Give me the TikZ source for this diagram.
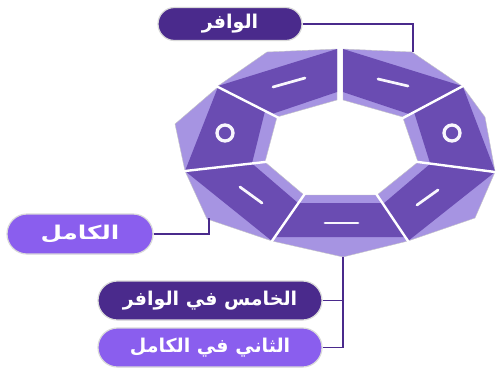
\documentclass[tikz,border=0pt]{standalone}
\usepackage{fontspec}
\newfontfamily\arabicfont[Script=Arabic]{DejaVu Sans}
\TeXXeTstate=1
\usetikzlibrary{shapes.misc}
\definecolor{ringdark}{HTML}{6A4CB2}
\definecolor{ringlight}{HTML}{A694E2}
\definecolor{pilldark}{HTML}{4A2A8C}
\definecolor{pilllight}{HTML}{8A5EEE}
\definecolor{linec}{HTML}{4A2A8C}
\tikzset{
  lightseg/.style={fill=ringlight, draw=gray!45, line width=0.4pt},
  darkseg/.style={fill=ringdark},
  divider/.style={draw=white, line width=2.4pt, shorten <=-2pt, shorten >=-2pt},
  glyphline/.style={draw=white!92!ringlight, line width=2.7pt, line cap=round},
  pillbase/.style={rounded rectangle, draw=gray!30, line width=1.2pt, text=white, inner sep=0pt,
    font=\arabicfont\bfseries\fontsize{19}{19}\selectfont},
  pillD/.style={pillbase, fill=pilldark},
  pillL/.style={pillbase, fill=pilllight},
  conn/.style={draw=linec, line width=1.5pt}
}
\begin{document}
\begin{tikzpicture}[x=1pt,y=-1pt]
\fill[white] (0,0) rectangle (499,373);
\useasboundingbox (0,0) rectangle (499,373);
% top-left
\filldraw[lightseg] (218,86)--(267,52)--(337,49)--(337,100)--(277,117)--cycle;
\fill[darkseg] (218,86)--(337,49)--(337,92)--(272,114)--cycle;
% top-right
\filldraw[lightseg] (343,49)--(412,52)--(462,86)--(403,117)--(343,100)--cycle;
\fill[darkseg] (343,49)--(462,86)--(409,114)--(343,92)--cycle;
% right
\filldraw[lightseg] (463,87)--(485,117)--(495,171)--(418,162)--(403,118)--cycle;
\fill[darkseg] (463,87)--(495,171)--(430,163)--(414,112)--cycle;
% lower-right
\filldraw[lightseg] (418,162)--(495,172)--(475,218)--(408,241)--(377,195)--cycle;
\fill[darkseg] (430,164)--(495,172)--(408,241)--(383,204)--cycle;
% bottom
\filldraw[lightseg] (304,195)--(377,195)--(408,241)--(343,257)--(272,241)--cycle;
\fill[darkseg] (298,203)--(382,203)--(405,237)--(275,237)--cycle;
% lower-left
\filldraw[lightseg] (185,171)--(265,162)--(304,195)--(272,241)--(207,219)--cycle;
\fill[darkseg] (185,171)--(252,163.5)--(298,203)--(272,241)--cycle;
% left
\filldraw[lightseg] (218,87)--(277,117)--(265,162)--(185,171)--(175,124)--cycle;
\fill[darkseg] (218,87)--(265,111)--(252,163.5)--(185,171)--cycle;
% dividers
\draw[divider] (218,87)--(277,117);
\draw[divider] (185,171)--(265,162);
\draw[divider] (272,241)--(304,195);
\draw[divider] (377,195)--(408,241);
\draw[divider] (418,162)--(495,172);
\draw[divider] (403,118)--(463,86);
% glyphs
\draw[glyphline] (273,87)--(305,78);
\draw[glyphline] (378,79)--(408,86);
\draw[glyphline] (240,187)--(262,203);
\draw[glyphline] (325,223)--(358,223);
\draw[glyphline] (417,205)--(438,190);
\draw[glyphline, line width=3.3pt] (225,133) circle (8pt);
\draw[glyphline, line width=3.3pt] (452,133) circle (8pt);
% pills
\node[pillD, minimum width=144pt, minimum height=33pt] (wafir) at (230,24) {\beginR الوافر\endR};
\node[pillL, minimum width=146pt, minimum height=40pt] (kamil) at (80,234) {\scalebox{1.3}[1]{\beginR الكامل\endR}};
\node[pillD, minimum width=224pt, minimum height=39pt] (khamis) at (210,300.5) {\beginR الخامس في الوافر\endR};
\node[pillL, minimum width=224pt, minimum height=39pt] (thani) at (210,347.5) {\beginR الثاني في الكامل\endR};
% connectors
\coordinate (topend) at (413,52);
\coordinate (leftend) at (209,218);
\coordinate (botend) at (343,257);
\draw[conn] (wafir.east) -- (topend |- wafir.east) -- (topend);
\draw[conn] (kamil.east) -- (leftend |- kamil.east) -- (leftend);
\draw[conn] (botend) -- (botend |- thani.east) -- (thani.east);
\draw[conn] (khamis.east) -- (botend |- khamis.east);
\end{tikzpicture}
\end{document}
